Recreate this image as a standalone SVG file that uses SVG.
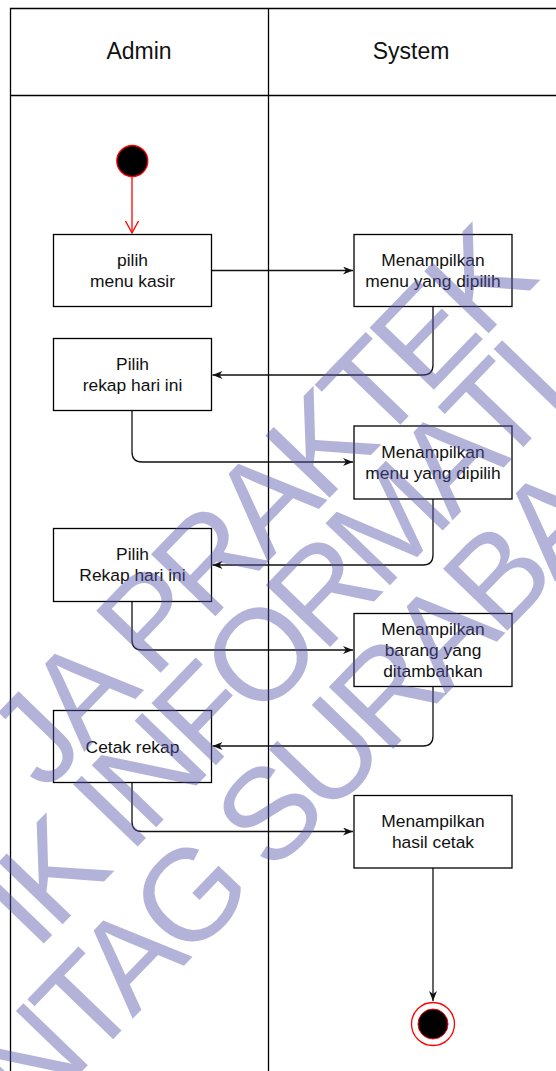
<svg xmlns="http://www.w3.org/2000/svg" width="556" height="1071" viewBox="0 0 556 1071">
<defs>
<style>
.lane{fill:none;stroke:#000;stroke-width:1.3}
.box{fill:#fff;stroke:#000;stroke-width:1.3}
.t{font-family:"Liberation Sans",Arial,Helvetica,sans-serif;font-size:17.4px;fill:#111;text-anchor:middle}
.h{font-family:"Liberation Sans",Arial,Helvetica,sans-serif;font-size:23px;fill:#111;text-anchor:middle}
.c{fill:none;stroke:#111;stroke-width:1.3}
.wm{font-family:"Liberation Sans",Arial,Helvetica,sans-serif;font-size:130px;letter-spacing:-8px;fill:#5656ad;fill-opacity:0.45}
</style>
<marker id="arr" markerUnits="userSpaceOnUse" markerWidth="12" markerHeight="10" refX="10" refY="4" orient="auto">
<path d="M0,0 L10,4 L0,8 L3,4 Z" fill="#111"/>
</marker>
<marker id="open" markerUnits="userSpaceOnUse" markerWidth="14" markerHeight="14" refX="12" refY="6.5" orient="auto">
<path d="M0,0 L12,6.5 L0,13" fill="none" stroke="#ff0000" stroke-width="1.3"/>
</marker>
</defs>
<rect width="556" height="1071" fill="#fff"/>
<g id="lanes">
<path class="lane" d="M10.5,1071 V8.5 H560 M10.5,95.5 H560 M268.5,8.5 V1071"/>
<text class="h" x="139" y="59">Admin</text>
<text class="h" x="411" y="59">System</text>
</g>
<g id="connectors">
<path d="M132,177 V233" fill="none" stroke="#ff0000" stroke-width="1.3" marker-end="url(#open)"/>
<path class="c" d="M211.5,270.5 H353" marker-end="url(#arr)"/>
<path class="c" d="M433,307 V365 Q433,375 423,375 H212.5" marker-end="url(#arr)"/>
<path class="c" d="M132,411 V452 Q132,462 142,462 H353" marker-end="url(#arr)"/>
<path class="c" d="M433,499 V555 Q433,565 423,565 H212.5" marker-end="url(#arr)"/>
<path class="c" d="M132,601.5 V640 Q132,650 142,650 H353" marker-end="url(#arr)"/>
<path class="c" d="M433,686.5 V736 Q433,746 423,746 H212.5" marker-end="url(#arr)"/>
<path class="c" d="M132,782.5 V821.5 Q132,831.5 142,831.5 H353" marker-end="url(#arr)"/>
<path class="c" d="M433,868 V1001" marker-end="url(#arr)"/>
</g>
<g id="start"><circle cx="132.3" cy="161" r="15.5" fill="#000" stroke="#ff0000" stroke-width="1.3"/></g>
<g id="n1"><rect class="box" x="53.5" y="234.5" width="158" height="72"/><text class="t" x="132.5" y="265.7">pilih</text><text class="t" x="132.5" y="286.7">menu kasir</text></g>
<g id="n2"><rect class="box" x="354" y="234.5" width="158" height="72"/><text class="t" x="433" y="265.7">Menampilkan</text><text class="t" x="433" y="286.7">menu yang dipilih</text></g>
<g id="n3"><rect class="box" x="53.5" y="338.5" width="158" height="72"/><text class="t" x="132.5" y="369.7">Pilih</text><text class="t" x="132.5" y="390.7">rekap hari ini</text></g>
<g id="n4"><rect class="box" x="354" y="426" width="158" height="73"/><text class="t" x="433" y="457.7">Menampilkan</text><text class="t" x="433" y="478.7">menu yang dipilih</text></g>
<g id="n5"><rect class="box" x="53.5" y="528.5" width="158" height="73"/><text class="t" x="132.5" y="560.2">Pilih</text><text class="t" x="132.5" y="581.2">Rekap hari ini</text></g>
<g id="n6"><rect class="box" x="354" y="613.5" width="158" height="73"/><text class="t" x="433" y="634.7">Menampilkan</text><text class="t" x="433" y="655.7">barang yang</text><text class="t" x="433" y="676.7">ditambahkan</text></g>
<g id="n7"><rect class="box" x="53.5" y="710.5" width="158" height="72"/><text class="t" x="132.5" y="752.5">Cetak rekap</text></g>
<g id="n8"><rect class="box" x="354" y="795.5" width="158" height="72.5"/><text class="t" x="433" y="826.7">Menampilkan</text><text class="t" x="433" y="847.7">hasil cetak</text></g>
<g id="end"><circle cx="433" cy="1024" r="21.5" fill="#fff" stroke="#ff0000" stroke-width="1.3"/><circle cx="433" cy="1024" r="15" fill="#000" stroke="#ff0000" stroke-width="1"/></g>
<g id="watermark">
<text class="wm" transform="translate(44.4,793.3) rotate(-46)">JA PRAKTEK</text>
<text class="wm" transform="translate(35.6,952.2) rotate(-46)">IK INFORMATI</text>
<text class="wm" transform="translate(30,1125.3) rotate(-46)">NTAG SURABA</text>
</g>
</svg>
